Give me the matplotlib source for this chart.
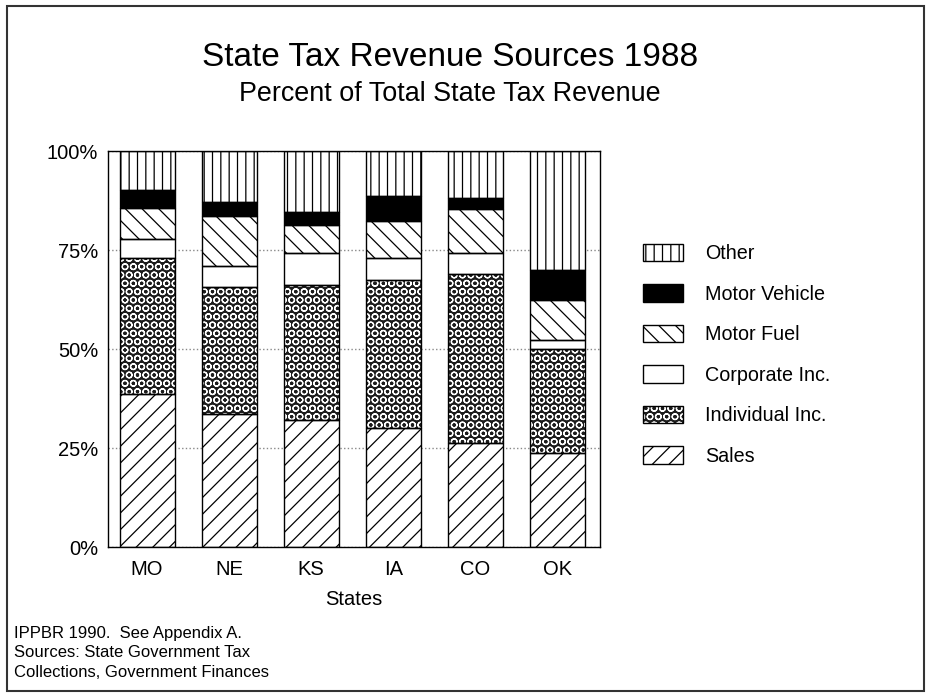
import matplotlib.pyplot as plt
from matplotlib.patches import Patch, Rectangle
from matplotlib.legend_handler import HandlerTuple
import numpy as np

plt.rcParams['font.family'] = ['Liberation Sans', 'DejaVu Sans']
plt.rcParams['hatch.linewidth'] = 0.9

states = ['MO', 'NE', 'KS', 'IA', 'CO', 'OK']
sales = [38.6, 33.6, 32.1, 30.0, 26.3, 23.7]
individual = [34.3, 32.1, 34.1, 37.4, 42.6, 26.3]
corporate = [5.0, 5.3, 8.0, 5.5, 5.3, 2.4]
motor_fuel = [7.8, 12.6, 7.0, 9.4, 11.2, 10.1]
motor_vehicle = [4.5, 3.6, 3.3, 6.4, 2.8, 7.4]
other = [9.8, 12.8, 15.5, 11.3, 11.8, 30.1]

fig = plt.figure(figsize=(9.26, 6.94), dpi=100)
ax = fig.add_axes([0.1166, 0.2118, 0.5313, 0.5706])

x = np.arange(len(states))
w = 0.67
bottom = np.zeros(len(states))

# (values, face, hatch colour, hatch, label)
series = [
    (sales, 'white', 'black', '//', 'Sales'),
    (individual, '#1c1c1c', 'white', 'OO', 'Individual Inc.'),
    (corporate, 'white', 'black', '', 'Corporate Inc.'),
    (motor_fuel, 'white', 'black', '\\\\', 'Motor Fuel'),
    (motor_vehicle, 'black', 'black', '', 'Motor Vehicle'),
    (other, 'white', 'black', '||', 'Other'),
]

handles = []
for vals, fc, hc, hatch, label in series:
    ax.bar(x, vals, w, bottom=bottom, color=fc, edgecolor=hc, hatch=hatch,
           linewidth=0, zorder=2)
    ax.bar(x, vals, w, bottom=bottom, facecolor='none', edgecolor='black',
           linewidth=1, zorder=3)
    bottom += np.array(vals)
    h1 = Patch(facecolor=fc, edgecolor=hc, hatch=hatch, linewidth=0)
    h2 = Patch(facecolor='none', edgecolor='black', linewidth=1)
    handles.append(((h1, h2), label))

ax.set_xlim(-0.476, 5.52)
ax.set_ylim(0, 100)
ax.set_yticks([0, 25, 50, 75, 100])
ax.set_yticklabels(['0%', '25%', '50%', '75%', '100%'])
ax.set_xticks(x)
ax.set_xticklabels(states)
ax.tick_params(length=0, labelsize=14.5, pad=9)
ax.tick_params(axis='y', pad=7)
ax.yaxis.grid(True, linestyle=':', color='#888888', linewidth=1, zorder=0)
ax.set_axisbelow(True)
for s in ax.spines.values():
    s.set_linewidth(1)
ax.set_xlabel('States', fontsize=14.5, labelpad=8)

fig.text(0.486, 1 - 66 / 694, 'State Tax Revenue Sources 1988', fontsize=24,
         ha='center', va='baseline')
fig.text(0.486, 1 - 101 / 694, 'Percent of Total State Tax Revenue', fontsize=19.4,
         ha='center', va='baseline')

handles = handles[::-1]
leg = fig.legend([h for h, _ in handles], [l for _, l in handles],
                 handler_map={tuple: HandlerTuple(ndivide=1)},
                 loc='upper left', bbox_to_anchor=(0.6757, 1 - 226 / 694),
                 frameon=False, fontsize=14.2, handlelength=2.03,
                 handleheight=0.97, labelspacing=1.07, handletextpad=1.1)

fig.text(14 / 926, 1 - 638 / 694, 'IPPBR 1990.  See Appendix A.', fontsize=12,
         va='baseline')
fig.text(14 / 926, 1 - 657 / 694, 'Sources: State Government Tax', fontsize=12,
         va='baseline')
fig.text(14 / 926, 1 - 677 / 694, 'Collections, Government Finances', fontsize=12,
         va='baseline')

fig.patches.append(Rectangle((7 / 926, 1 - 691 / 694), 917 / 926, 685 / 694,
                             transform=fig.transFigure, fill=False,
                             edgecolor='#333333', linewidth=1.5))

fig.savefig('out.png', dpi=100)
